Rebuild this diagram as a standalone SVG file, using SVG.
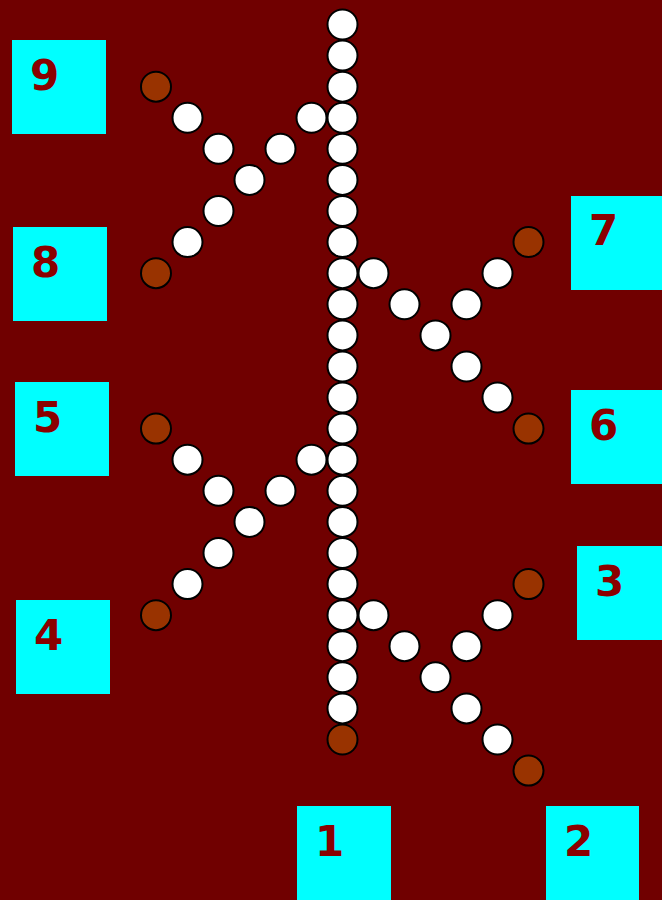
<svg xmlns="http://www.w3.org/2000/svg" width="662" height="900" viewBox="0 0 662 900">
<style>
.bx{fill:#00ffff}
.lb{font-family:"DejaVu Sans",sans-serif;font-weight:bold;font-size:42px;fill:#8b0000}
.w{fill:#ffffff;stroke:#000;stroke-width:2}
.b{fill:#993300;stroke:#000;stroke-width:2}
</style>
<rect width="662" height="900" fill="#700000"/>
<g id="connectors">
<g id="trunk">
<circle class="w" cx="342.5" cy="24.5" r="15"/>
<circle class="w" cx="342.5" cy="55.6" r="15"/>
<circle class="w" cx="342.5" cy="86.7" r="15"/>
<circle class="w" cx="342.5" cy="117.8" r="15"/>
<circle class="w" cx="342.5" cy="148.8" r="15"/>
<circle class="w" cx="342.5" cy="179.9" r="15"/>
<circle class="w" cx="342.5" cy="211" r="15"/>
<circle class="w" cx="342.5" cy="242.1" r="15"/>
<circle class="w" cx="342.5" cy="273.2" r="15"/>
<circle class="w" cx="342.5" cy="304.3" r="15"/>
<circle class="w" cx="342.5" cy="335.4" r="15"/>
<circle class="w" cx="342.5" cy="366.5" r="15"/>
<circle class="w" cx="342.5" cy="397.5" r="15"/>
<circle class="w" cx="342.5" cy="428.6" r="15"/>
<circle class="w" cx="342.5" cy="459.7" r="15"/>
<circle class="w" cx="342.5" cy="490.8" r="15"/>
<circle class="w" cx="342.5" cy="521.9" r="15"/>
<circle class="w" cx="342.5" cy="553" r="15"/>
<circle class="w" cx="342.5" cy="584.1" r="15"/>
<circle class="w" cx="342.5" cy="615.2" r="15"/>
<circle class="w" cx="342.5" cy="646.2" r="15"/>
<circle class="w" cx="342.5" cy="677.3" r="15"/>
<circle class="w" cx="342.5" cy="708.4" r="15"/>
<circle class="b" cx="342.5" cy="739.5" r="15"/>
</g>
<g id="branch-top-left">
<circle class="w" cx="311.5" cy="117.8" r="15"/>
<circle class="w" cx="280.5" cy="148.8" r="15"/>
<circle class="w" cx="249.5" cy="179.9" r="15"/>
<circle class="w" cx="218.5" cy="148.8" r="15"/>
<circle class="w" cx="187.5" cy="117.8" r="15"/>
<circle class="b" cx="156" cy="86.7" r="15"/>
<circle class="w" cx="218.5" cy="211" r="15"/>
<circle class="w" cx="187.5" cy="242.1" r="15"/>
<circle class="b" cx="156" cy="273.2" r="15"/>
</g>
<g id="branch-top-right">
<circle class="w" cx="373.5" cy="273.2" r="15"/>
<circle class="w" cx="404.5" cy="304.3" r="15"/>
<circle class="w" cx="435.5" cy="335.4" r="15"/>
<circle class="w" cx="466.5" cy="304.3" r="15"/>
<circle class="w" cx="497.5" cy="273.2" r="15"/>
<circle class="b" cx="528.5" cy="242.1" r="15"/>
<circle class="w" cx="466.5" cy="366.5" r="15"/>
<circle class="w" cx="497.5" cy="397.5" r="15"/>
<circle class="b" cx="528.5" cy="428.6" r="15"/>
</g>
<g id="branch-bottom-left">
<circle class="w" cx="311.5" cy="459.7" r="15"/>
<circle class="w" cx="280.5" cy="490.8" r="15"/>
<circle class="w" cx="249.5" cy="521.9" r="15"/>
<circle class="w" cx="218.5" cy="490.8" r="15"/>
<circle class="w" cx="187.5" cy="459.7" r="15"/>
<circle class="b" cx="156" cy="428.6" r="15"/>
<circle class="w" cx="218.5" cy="553" r="15"/>
<circle class="w" cx="187.5" cy="584.1" r="15"/>
<circle class="b" cx="156" cy="615.2" r="15"/>
</g>
<g id="branch-bottom-right">
<circle class="w" cx="373.5" cy="615.2" r="15"/>
<circle class="w" cx="404.5" cy="646.2" r="15"/>
<circle class="w" cx="435.5" cy="677.3" r="15"/>
<circle class="w" cx="466.5" cy="646.2" r="15"/>
<circle class="w" cx="497.5" cy="615.2" r="15"/>
<circle class="b" cx="528.5" cy="584.1" r="15"/>
<circle class="w" cx="466.5" cy="708.4" r="15"/>
<circle class="w" cx="497.5" cy="739.5" r="15"/>
<circle class="b" cx="528.5" cy="770.6" r="15"/>
</g>
</g>
<g id="node-9"><rect class="bx" x="12" y="40" width="94" height="94"/><text class="lb" x="30" y="90">9</text></g>
<g id="node-8"><rect class="bx" x="13" y="227" width="94" height="94"/><text class="lb" x="31" y="277">8</text></g>
<g id="node-5"><rect class="bx" x="15" y="382" width="94" height="94"/><text class="lb" x="33" y="432">5</text></g>
<g id="node-4"><rect class="bx" x="16" y="600" width="94" height="94"/><text class="lb" x="34" y="650">4</text></g>
<g id="node-7"><rect class="bx" x="571" y="196" width="94" height="94"/><text class="lb" x="589" y="245">7</text></g>
<g id="node-6"><rect class="bx" x="571" y="390" width="94" height="94"/><text class="lb" x="589" y="440">6</text></g>
<g id="node-3"><rect class="bx" x="577" y="546" width="94" height="94"/><text class="lb" x="595" y="596">3</text></g>
<g id="node-1"><rect class="bx" x="297" y="806" width="94" height="94"/><text class="lb" x="315" y="856">1</text></g>
<g id="node-2"><rect class="bx" x="546" y="806" width="93" height="94"/><text class="lb" x="564" y="856">2</text></g>
</svg>
